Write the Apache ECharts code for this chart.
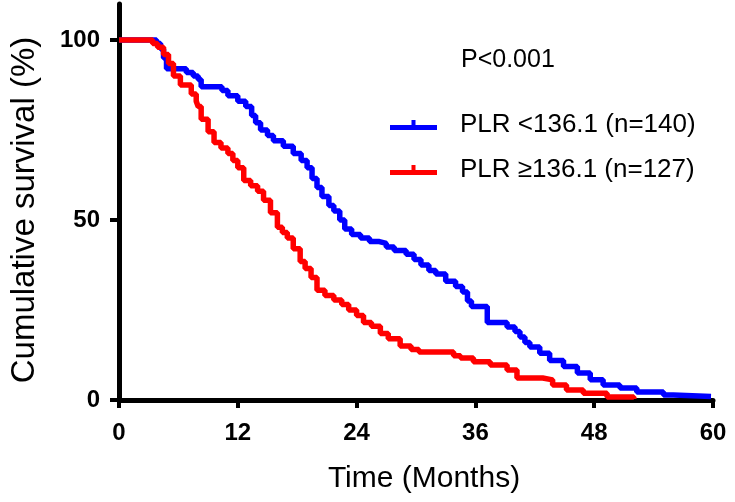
<!DOCTYPE html>
<html>
<head>
<meta charset="utf-8">
<script src="https://cdn.jsdelivr.net/npm/echarts@6/dist/echarts.min.js"></script>
<style>
html,body{margin:0;padding:0;background:#fff;}
#chart{width:735px;height:502px;}
</style>
</head>
<body>
<div id="chart"></div>
<script>
var seriesNames = ['PLR <136.1 (n=140)', 'PLR \u2265136.1 (n=127)'];
var pValueText = 'P<0.001';
var xTicks = [0, 12, 24, 36, 48, 60];
var yTicks = [0, 50, 100];

var lowPLR = [
  [0,100],[3.5,100],[3.8,99],[4.2,97.5],[4.5,95],[4.8,92],[6.3,92],[6.8,91],[7.5,90],[8.0,89],
  [8.3,87],[9.8,87],[10.4,86],[11.0,84.5],[12.0,83],[12.8,81.5],[13.4,79],[13.8,77],[14.3,75],
  [15.0,73.5],[15.6,72],[16.6,70.5],[17.6,68.5],[18.4,66.5],[19.0,64.5],[19.5,61.5],[20.0,59],
  [20.5,56.5],[21.2,54],[21.7,52.5],[22.3,50],[22.8,47.5],[23.5,46],[24.4,45],[25.3,44],
  [26.3,43.5],[27.0,42.5],[27.8,41.5],[29.0,40.5],[29.8,39],[30.5,37.5],[31.3,36],[32.0,35],
  [33.0,33],[34.0,31.5],[34.7,30],[35.2,27.5],[35.6,26],[37.2,21.5],[39.2,20.3],[40.0,19],
  [40.5,17.5],[41.0,16],[41.5,14.7],[42.5,13],[43.5,11],[44.9,9.3],[46.3,7.5],[47.6,5.6],
  [48.9,4.2],[50.6,3.3],[52.3,2.2],[55.0,1.4],[56.0,1],[59.8,1]
];

var highPLR = [
  [0,100],[3.0,100],[3.4,99],[3.9,98],[4.5,96],[5.0,93.5],[5.5,90],[6.2,87.5],[7.3,85],
  [7.8,83],[8.0,81.5],[8.3,78],[9.0,74.5],[9.6,71.5],[10.3,70],[11.0,68.5],[11.5,66.5],
  [12.0,64.5],[12.6,61],[13.3,59.5],[14.0,58],[14.6,55.5],[15.3,52],[16.0,48],[16.5,46.5],
  [17.0,45],[17.6,42],[18.3,38.5],[18.8,36.5],[19.4,34],[20.0,30.5],[20.8,29],[21.7,27.8],
  [22.5,26.5],[23.2,25],[24.0,23.5],[24.7,21.5],[25.5,20.5],[26.4,18.5],[27.2,17],[28.4,15],
  [29.5,14],[30.3,13.3],[33.8,12.3],[34.5,11.7],[35.8,10.6],[37.5,9.7],[39.2,8.3],[40.2,6.1],
  [42.8,5.6],[43.8,4.2],[45.2,2.8],[46.9,1.9],[49.3,0.8],[52.0,0.3]
];

var FONT = '"Liberation Sans", Arial, Helvetica, sans-serif';
var legendIcon = 'path://M0,5H47V10H0Z M21.5,0H25.5V5H21.5Z';

var chart = echarts.init(document.getElementById('chart'), null, {renderer: 'canvas'});
chart.setOption({
  animation: false,
  backgroundColor: '#ffffff',
  textStyle: {fontFamily: FONT},
  title: {
    text: pValueText,
    left: 461,
    top: 48,
    padding: 0,
    textStyle: {fontFamily: FONT, fontSize: 25, fontWeight: 'normal', color: '#000'}
  },
  legend: {
    orient: 'vertical',
    left: 390,
    top: 112,
    padding: 0,
    itemGap: 19,
    itemWidth: 47,
    itemHeight: 10,
    icon: legendIcon,
    data: seriesNames,
    textStyle: {fontFamily: FONT, fontSize: 26, color: '#000', padding: [0, 0, 0, 18]}
  },
  grid: {left: 119, right: 22, top: 4, bottom: 102, containLabel: false},
  xAxis: {
    type: 'value',
    min: 0,
    max: 60,
    interval: 12,
    name: 'Time (Months)',
    nameLocation: 'middle',
    nameGap: 64,
    nameTextStyle: {fontFamily: FONT, fontSize: 30, color: '#000', padding: [0, 0, 0, 16]},
    axisLine: {lineStyle: {color: '#000', width: 5}},
    axisTick: {length: 8, lineStyle: {color: '#000', width: 4}},
    axisLabel: {
      margin: 21, fontFamily: FONT, fontSize: 24, fontWeight: 'bold', color: '#000',
      customValues: xTicks
    },
    splitLine: {show: false}
  },
  yAxis: {
    type: 'value',
    min: 0,
    max: 110,
    interval: 50,
    name: 'Cumulative survival (%)',
    nameLocation: 'middle',
    nameGap: 78,
    nameTextStyle: {fontFamily: FONT, fontSize: 33, color: '#000', padding: [0, 16, 0, 0]},
    axisLine: {lineStyle: {color: '#000', width: 5}},
    axisTick: {length: 9, lineStyle: {color: '#000', width: 4}, customValues: yTicks},
    axisLabel: {
      margin: 19, fontFamily: FONT, fontSize: 24, fontWeight: 'bold', color: '#000',
      customValues: yTicks
    },
    splitLine: {show: false}
  },
  series: [
    {
      name: seriesNames[0],
      type: 'line',
      step: 'end',
      showSymbol: false,
      symbol: 'none',
      data: lowPLR,
      color: '#0000ff',
      lineStyle: {color: '#0000ff', width: 5.5},
      z: 2
    },
    {
      name: seriesNames[1],
      type: 'line',
      step: 'end',
      showSymbol: false,
      symbol: 'none',
      data: highPLR,
      color: '#ff0000',
      lineStyle: {color: '#ff0000', width: 5.5},
      z: 3
    }
  ]
});
</script>
</body>
</html>
